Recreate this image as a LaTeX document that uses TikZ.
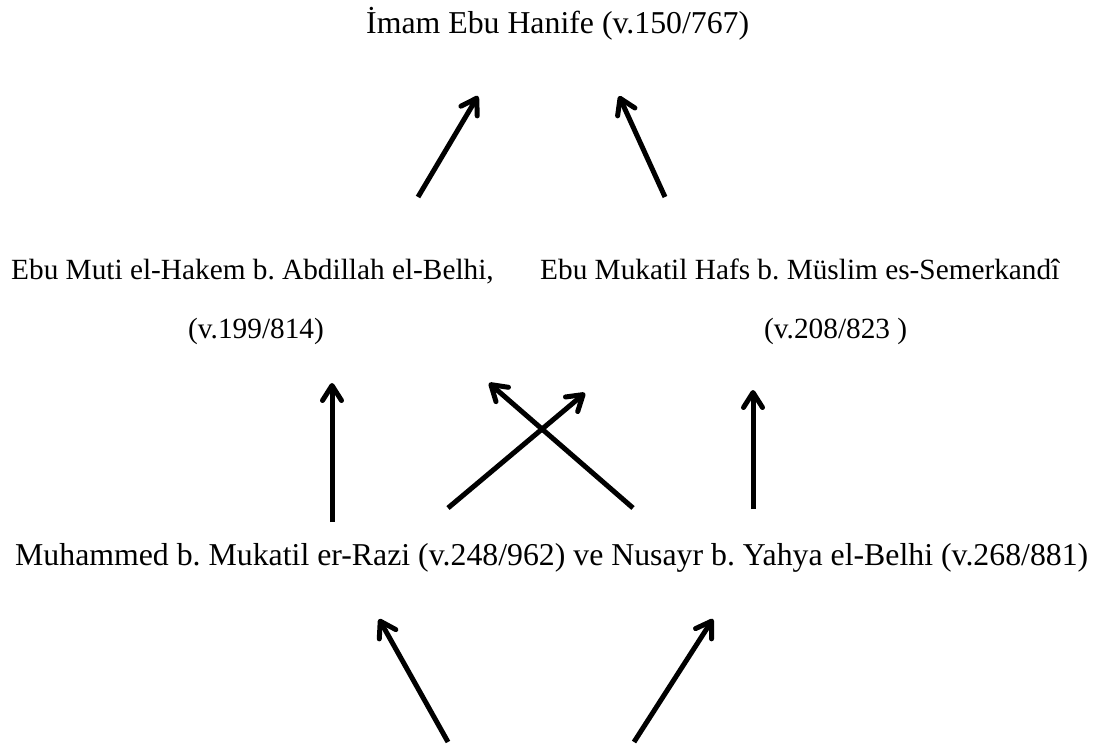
\documentclass[tikz,border=0pt]{standalone}
\usepackage{fontspec}
\setmainfont{Liberation Serif}
\usetikzlibrary{arrows.meta}
\frenchspacing
\begin{document}
\begin{tikzpicture}[x=1pt,y=-1pt,
  lbl/.style={inner sep=0pt, anchor=base west, font=\fontsize{29.3}{35}\selectfont},
  biglbl/.style={lbl, font=\fontsize{31.8}{38}\selectfont},
  arr/.style={line width=5pt, line cap=butt, -{Straight Barb[length=15pt,width=19pt,round]}}]
\useasboundingbox[fill=white] (0,0) rectangle (1114,744);
% texts
\node[biglbl] (top) at (366,34) {İmam Ebu Hanife (v.150/767)};
\node[lbl] (hakem) at (11,279) {Ebu Muti el-Hakem b. Abdillah el-Belhi,};
\node[lbl] (hafs) at (540,279) {Ebu Mukatil Hafs b. Müslim es-Semerkandî};
\node[lbl] (hakemd) at (188,338) {(v.199/814)};
\node[lbl] (hafsd) at (764,338) {(v.208/823 )};
\node[biglbl] (bottom) at (15,565) {Muhammed b. Mukatil er-Razi (v.248/962) ve Nusayr b. Yahya el-Belhi (v.268/881)};
% arrow end points
\coordinate (t1s) at (418,197); \coordinate (t1e) at (478,96);
\coordinate (t2s) at (665,197); \coordinate (t2e) at (619,96);
\coordinate (m1s) at (332,522); \coordinate (m1e) at (332,383);
\coordinate (m2s) at (448,508); \coordinate (m2e) at (585,393);
\coordinate (m3s) at (633,508); \coordinate (m3e) at (489,383);
\coordinate (m4s) at (753,509); \coordinate (m4e) at (753,390);
\coordinate (b1s) at (448,742); \coordinate (b1e) at (379,619);
\coordinate (b2s) at (634,742); \coordinate (b2e) at (713,619);
% arrows
\draw[arr] (t1s) -- (t1e);
\draw[arr] (t2s) -- (t2e);
\draw[arr] (m1s) -- (m1e);
\draw[arr] (m2s) -- (m2e);
\draw[arr] (m3s) -- (m3e);
\draw[arr] (m4s) -- (m4e);
\draw[arr] (b1s) -- (b1e);
\draw[arr] (b2s) -- (b2e);
\end{tikzpicture}
\end{document}
